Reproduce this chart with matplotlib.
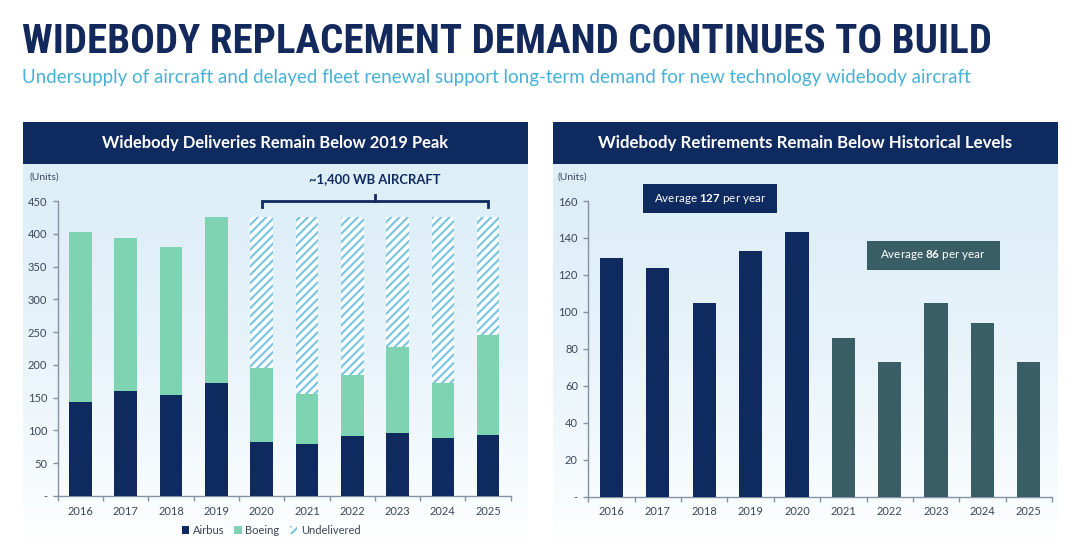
import matplotlib
matplotlib.use('agg')
from matplotlib import pyplot as plt
from matplotlib import font_manager as fm
from matplotlib.patches import Patch, Rectangle
import numpy as np

# data
years = ['2016', '2017', '2018', '2019', '2020', '2021', '2022', '2023', '2024', '2025']
airbus = [144, 160, 154, 173, 82, 79, 92, 96, 89, 93]
boeing = [258, 234, 226, 253, 114, 76, 93, 131, 83, 153]
peak_2019 = 426
retire_pre = [129, 124, 105, 133, 143]      # 2016-2020
retire_post = [86, 73, 105, 94, 73]         # 2021-2025
left_yticks = [0, 50, 100, 150, 200, 250, 300, 350, 400, 450]
right_yticks = [0, 20, 40, 60, 80, 100, 120, 140, 160]

NAVY = '#0f2a5e'
GREEN = '#7ed3b2'
HATCH = '#7cc6e1'
TEAL = '#3a5e65'
AXIS = '#8592a3'
TXT = '#3b4658'
SUB = '#46b1d8'

W, H = 1080, 546


def rect(x0, y0, x1, y1):
    # pixel box (top-left origin) -> figure fraction
    return [x0 / W, 1 - y1 / H, (x1 - x0) / W, (y1 - y0) / H]


names = {f.name for f in fm.fontManager.ttflist}
title_kw = dict(family='DejaVu Sans', fontweight='bold', fontstretch='condensed')
for n in ['Liberation Sans Narrow', 'Roboto Condensed', 'Open Sans Condensed']:
    if n in names:
        title_kw = dict(family=n, fontweight='bold')
        break
BODY = 'Lato' if 'Lato' in names else 'DejaVu Sans'

plt.rcParams['font.family'] = [BODY, 'DejaVu Sans']
plt.rcParams['hatch.linewidth'] = 1.6
plt.rcParams['mathtext.fontset'] = 'custom'
plt.rcParams['mathtext.rm'] = BODY
plt.rcParams['mathtext.bf'] = BODY + ':bold'

fig = plt.figure(figsize=(10.8, 5.46), dpi=100)
fig.patch.set_facecolor('white')

fit = []  # (text, target width px)
t = fig.text(22 / W, 1 - 42 / H, 'WIDEBODY REPLACEMENT DEMAND CONTINUES TO BUILD',
             color='#13295c', fontsize=26, va='center', ha='left', **title_kw)
fit.append((t, 971))
t = fig.text(22 / W, 1 - 78 / H, 'Undersupply of aircraft and delayed fleet renewal support '
             'long-term demand for new technology widebody aircraft',
             color=SUB, fontsize=13, va='center', ha='left')
fit.append((t, 948))

# panel backgrounds + header bars
grad = np.linspace(0, 1, 256).reshape(-1, 1)
for x0, x1, head, hw in [(23, 528, 'Widebody Deliveries Remain Below 2019 Peak', 346),
                         (553, 1058, 'Widebody Retirements Remain Below Historical Levels', 412)]:
    bg = fig.add_axes(rect(x0, 164, x1, 546), zorder=0)
    top = np.array([0.87, 0.935, 0.97])
    img = top[None, None, :] * (1 - grad[:, :, None] ** 1.6) + grad[:, :, None] ** 1.6
    bg.imshow(img, aspect='auto', extent=[0, 1, 0, 1])
    bg.axis('off')
    hd = fig.add_axes(rect(x0, 122, x1, 164), zorder=1)
    hd.set_facecolor(NAVY)
    hd.set_xticks([])
    hd.set_yticks([])
    for s in hd.spines.values():
        s.set_visible(False)
    t = hd.text(0.5, 0.5, head, color='white', fontweight='bold', fontsize=11,
                ha='center', va='center', transform=hd.transAxes)
    fit.append((t, hw))

# "(Units)" labels
for ux in [30, 557]:
    fig.text(ux / W, 1 - 177 / H, '(Units)', fontsize=7.5, color=TXT, ha='left', va='center')


def style(ax, ymax, yticks):
    ax.set_facecolor('none')
    ax.set_xlim(-0.5, 9.5)
    ax.set_ylim(0, ymax)
    for s in ['top', 'right']:
        ax.spines[s].set_visible(False)
    for s in ['left', 'bottom']:
        ax.spines[s].set_color(AXIS)
        ax.spines[s].set_linewidth(1.0)
    x = np.arange(len(years))
    ax.set_xticks(x)
    ax.set_xticklabels(years)
    ax.set_xticks(np.arange(-0.5, 10, 1), minor=True)
    ax.tick_params(axis='x', which='major', length=0, pad=7, labelsize=8, labelcolor=TXT)
    ax.tick_params(axis='x', which='minor', length=3.5, color=AXIS, width=1)
    ax.set_yticks(yticks)
    ax.set_yticklabels(['-'] + [str(v) for v in yticks[1:]])
    ax.tick_params(axis='y', length=3.5, color=AXIS, width=1, pad=4, labelsize=8, labelcolor=TXT)


# left chart: deliveries
ax1 = fig.add_axes(rect(57.7, 201, 510.8, 496), zorder=2)
style(ax1, 450, left_yticks)
x = np.arange(len(years))
total = [a + b for a, b in zip(airbus, boeing)]
ax1.bar(x, airbus, width=0.5, color=NAVY, zorder=3)
ax1.bar(x, boeing, bottom=airbus, width=0.5, color=GREEN, zorder=3)
fx = x[4:]
undeliv = [peak_2019 - tv for tv in total[4:]]
ax1.bar(fx, undeliv, bottom=total[4:], width=0.5, facecolor='white', edgecolor=HATCH,
        hatch='////', linewidth=0, zorder=2)
# bracket over 2020-2025
bx = [4, 4, 9, 9]
by = [441, 450, 450, 441]
ax1.plot(bx, by, color=NAVY, lw=2, clip_on=False, solid_joinstyle='miter')
ax1.plot([6.5, 6.5], [450, 459], color=NAVY, lw=2, clip_on=False)
t = ax1.text(6.5, 483, '~1,400 WB AIRCRAFT', color=NAVY, fontweight='bold', fontsize=9,
             ha='center', va='center', clip_on=False)
fit.append((t, 132))

handles = [Patch(facecolor=NAVY, edgecolor='none', label='Airbus'),
           Patch(facecolor=GREEN, edgecolor='none', label='Boeing'),
           Patch(facecolor='white', edgecolor=HATCH, hatch='////', linewidth=0, label='Undelivered')]
fig.legend(handles=handles, loc='center', bbox_to_anchor=(271 / W, 1 - 530 / H), ncol=3,
           frameon=False, fontsize=8, handlelength=0.7, handleheight=0.7,
           handletextpad=0.3, columnspacing=0.9, labelcolor=TXT)

# right chart: retirements
ax2 = fig.add_axes(rect(588.3, 201, 1052, 496.7), zorder=2)
style(ax2, 160, right_yticks)
ax2.bar(x[:5], retire_pre, width=0.5, color=NAVY, zorder=3)
ax2.bar(x[5:], retire_post, width=0.5, color=TEAL, zorder=3)
avg_pre = round(sum(retire_pre) / len(retire_pre))
avg_post = round(sum(retire_post) / len(retire_post))
for (x0, x1, y0, y1), col, avg in [((0.68, 3.57, 153.5, 169.2), NAVY, avg_pre),
                                   ((5.51, 8.37, 122.7, 138.4), TEAL, avg_post)]:
    ax2.add_patch(Rectangle((x0, y0), x1 - x0, y1 - y0, facecolor=col, edgecolor='none',
                            clip_on=False, zorder=4))
    ax2.text((x0 + x1) / 2, (y0 + y1) / 2, r'Average $\mathbf{%d}$ per year' % avg,
             color='white', fontsize=8.4, ha='center', va='center', zorder=5, clip_on=False)

fig.canvas.draw()
r = fig.canvas.get_renderer()
for txt, target in fit:
    w = txt.get_window_extent(r).width
    txt.set_fontsize(txt.get_fontsize() * target / w)

fig.savefig('out.png', dpi=100)
